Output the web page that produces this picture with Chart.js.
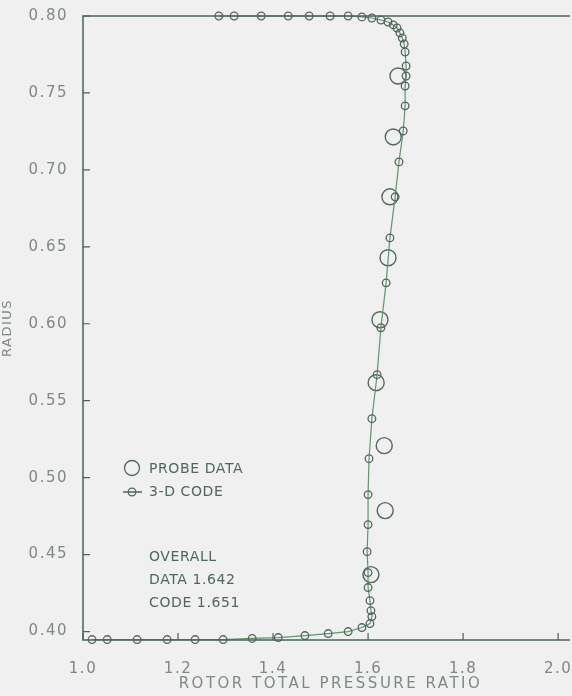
<!DOCTYPE html>
<html>
<head>
<meta charset="utf-8">
<script src="https://cdn.jsdelivr.net/npm/chart.js@4.4.1/dist/chart.umd.min.js"></script>
<style>
  html, body { margin: 0; padding: 0; background: #eff0ef; }
  #wrap { width: 572px; height: 696px; }
</style>
</head>
<body>
<div id="wrap"><canvas id="chart" width="572" height="696"></canvas></div>
<script>
// 3-D code, traced from the top of the passage down to the hub
const codePressure = [1.286, 1.318, 1.375, 1.432, 1.476, 1.520, 1.558, 1.587, 1.608, 1.627,
  1.642, 1.653, 1.661, 1.667, 1.672, 1.676, 1.678, 1.680, 1.680, 1.678,
  1.678, 1.674, 1.665, 1.657, 1.646, 1.638, 1.627, 1.619, 1.608, 1.602,
  1.600, 1.600, 1.598, 1.600, 1.600, 1.604, 1.606, 1.608, 1.604, 1.587,
  1.558, 1.516, 1.467, 1.411, 1.356, 1.295, 1.236, 1.177, 1.114, 1.051, 1.019];
const codeRadius = [0.800, 0.800, 0.800, 0.800, 0.800, 0.800, 0.800, 0.7994, 0.7987, 0.7974,
  0.7961, 0.7942, 0.7922, 0.7890, 0.7857, 0.7818, 0.7766, 0.7675, 0.7610, 0.7545,
  0.7416, 0.7253, 0.7052, 0.6825, 0.6558, 0.6266, 0.5974, 0.5669, 0.5383, 0.5123,
  0.4890, 0.4695, 0.4519, 0.4383, 0.4286, 0.4201, 0.4136, 0.4097, 0.4052, 0.4026,
  0.4000, 0.3987, 0.3974, 0.3961, 0.3955, 0.3948, 0.3948, 0.3948, 0.3948, 0.3948, 0.3948];

// probe data
const probePressure = [1.663, 1.653, 1.646, 1.642, 1.625, 1.617, 1.634, 1.636, 1.606];
const probeRadius = [0.7610, 0.7214, 0.6825, 0.6429, 0.6026, 0.5617, 0.5208, 0.4786, 0.4370];

const xTicks = [1.0, 1.2, 1.4, 1.6, 1.8, 2.0];
const yTicks = [0.40, 0.45, 0.50, 0.55, 0.60, 0.65, 0.70, 0.75, 0.80];

const xTitle = 'ROTOR TOTAL PRESSURE RATIO';
const yTitle = 'RADIUS';
const overallLines = ['OVERALL', 'DATA 1.642', 'CODE 1.651'];
const legendProbe = 'PROBE DATA';
const legendCode = '3-D CODE';

const axisColor = '#4b625a';
const tickText = '#7f8883';
const noteText = '#4f675d';
const lineGreen = '#5e9670';
const markColor = '#52675e';

const toPoints = (xs, ys) => xs.map((x, i) => ({ x: x, y: ys[i] }));

// axis frame, inward ticks, axis titles, legend and notes
const framePlugin = {
  id: 'frame',
  beforeDraw(chart) {
    chart.ctx.letterSpacing = '1.5px';
  },
  afterDraw(chart) {
    const ctx = chart.ctx;
    const a = chart.chartArea;
    const xs = chart.scales.x;
    const ys = chart.scales.y;
    ctx.save();
    ctx.strokeStyle = axisColor;
    ctx.lineWidth = 1.5;
    ctx.beginPath();
    ctx.moveTo(a.right, ys.getPixelForValue(0.80));
    ctx.lineTo(a.left, ys.getPixelForValue(0.80));
    ctx.lineTo(a.left, a.bottom);
    ctx.lineTo(a.right, a.bottom);
    ctx.stroke();
    ctx.lineWidth = 1.2;
    ctx.beginPath();
    yTicks.forEach(v => {
      const py = ys.getPixelForValue(v);
      ctx.moveTo(a.left, py);
      ctx.lineTo(a.left + 7, py);
    });
    xTicks.forEach(v => {
      const px = xs.getPixelForValue(v);
      ctx.moveTo(px, a.bottom);
      ctx.lineTo(px, a.bottom - 7);
    });
    ctx.stroke();

    // axis titles
    ctx.fillStyle = tickText;
    ctx.textBaseline = 'middle';
    ctx.textAlign = 'center';
    ctx.letterSpacing = '2.5px';
    ctx.font = '15px "DejaVu Sans"';
    ctx.fillText(xTitle, (a.left + a.right) / 2 + 4, 684);
    ctx.save();
    ctx.translate(8, (a.top + a.bottom) / 2);
    ctx.rotate(-Math.PI / 2);
    ctx.letterSpacing = '1.5px';
    ctx.font = '13px "DejaVu Sans"';
    ctx.fillText(yTitle, 0, 0);
    ctx.restore();

    // legend
    ctx.strokeStyle = markColor;
    ctx.lineWidth = 1.3;
    ctx.beginPath();
    ctx.arc(132, 468, 7.5, 0, Math.PI * 2);
    ctx.stroke();
    ctx.beginPath();
    ctx.arc(132, 492, 3.8, 0, Math.PI * 2);
    ctx.moveTo(123, 492);
    ctx.lineTo(142, 492);
    ctx.stroke();

    ctx.letterSpacing = '0.6px';
    ctx.fillStyle = noteText;
    ctx.font = '14px "DejaVu Sans"';
    ctx.textAlign = 'left';
    ctx.fillText(legendProbe, 149, 469);
    ctx.fillText(legendCode, 149, 492);
    overallLines.forEach((t, i) => ctx.fillText(t, 149, 557 + i * 23));
    ctx.restore();
  }
};

new Chart(document.getElementById('chart'), {
  type: 'scatter',
  data: {
    datasets: [
      {
        label: legendCode,
        data: toPoints(codePressure, codeRadius),
        showLine: true,
        tension: 0,
        borderColor: lineGreen,
        borderWidth: 1.2,
        pointRadius: 3.8,
        pointBorderWidth: 1.3,
        pointBorderColor: markColor,
        pointBackgroundColor: 'rgba(0,0,0,0)',
        clip: false
      },
      {
        label: legendProbe,
        data: toPoints(probePressure, probeRadius),
        showLine: false,
        pointRadius: 8,
        pointBorderWidth: 1.4,
        pointBorderColor: markColor,
        pointBackgroundColor: 'rgba(0,0,0,0)',
        clip: false
      }
    ]
  },
  options: {
    responsive: false,
    animation: false,
    layout: { autoPadding: false, padding: { top: 16, right: 2, left: 0, bottom: 0 } },
    plugins: { legend: { display: false }, tooltip: { enabled: false } },
    scales: {
      x: {
        type: 'linear',
        min: 1.0,
        max: 2.025,
        afterBuildTicks: s => { s.ticks = xTicks.map(v => ({ value: v })); },
        afterFit: s => { s.height = 56; s.paddingLeft = 0; s.paddingRight = 0; },
        grid: { display: false },
        border: { display: false },
        ticks: {
          color: tickText,
          font: { family: 'DejaVu Sans', size: 15 },
          padding: 12,
          maxRotation: 0,
          callback: v => v.toFixed(1)
        }
      },
      y: {
        type: 'linear',
        min: 0.3945,
        max: 0.80,
        afterBuildTicks: s => { s.ticks = yTicks.map(v => ({ value: v })); },
        afterFit: s => { s.width = 83; s.paddingTop = 0; s.paddingBottom = 0; },
        grid: { display: false },
        border: { display: false },
        ticks: {
          color: tickText,
          font: { family: 'DejaVu Sans', size: 15 },
          padding: 7,
          callback: v => v.toFixed(2)
        }
      }
    }
  },
  plugins: [framePlugin]
});
</script>
</body>
</html>
